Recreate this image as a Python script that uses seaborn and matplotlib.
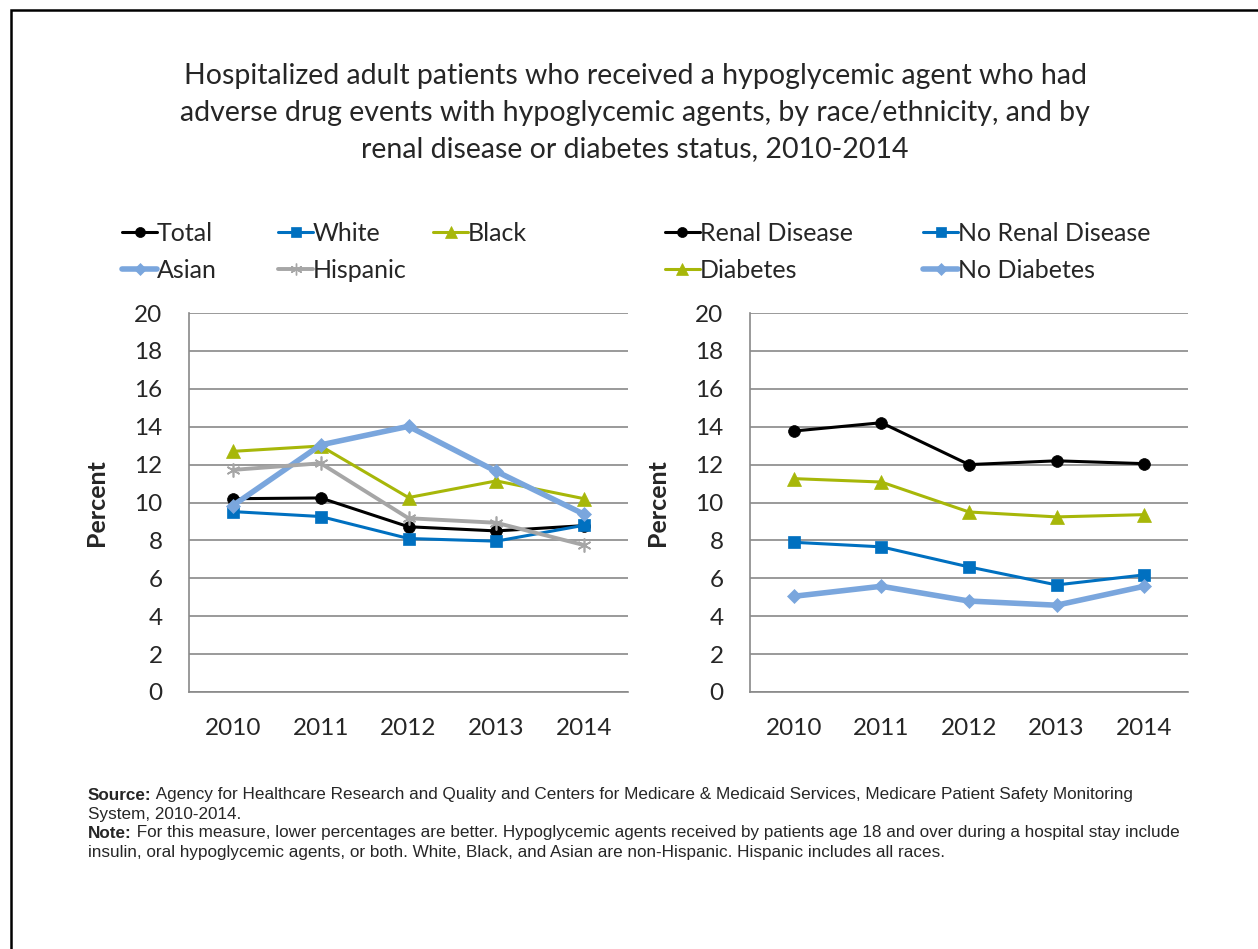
import matplotlib
matplotlib.use("Agg")
import matplotlib.pyplot as plt
import seaborn as sns
import pandas as pd
import numpy as np
from matplotlib.lines import Line2D
from matplotlib.patches import Rectangle

years = ["2010", "2011", "2012", "2013", "2014"]

# left panel: race/ethnicity
total = [10.2, 10.24, 8.72, 8.5, 8.78]
white = [9.52, 9.26, 8.1, 7.96, 8.8]
black = [12.7, 12.98, 10.26, 11.14, 10.2]
asian = [9.84, 13.04, 14.02, 11.64, 9.38]
hispanic = [11.72, 12.07, 9.17, 8.93, 7.75]

# right panel: renal disease / diabetes
renal = [13.77, 14.21, 12.0, 12.2, 12.05]
no_renal = [7.9, 7.66, 6.6, 5.65, 6.18]
diabetes = [11.26, 11.08, 9.5, 9.24, 9.36]
no_diabetes = [5.05, 5.58, 4.8, 4.58, 5.58]

ASTER = (6, 2, 0)
styles = {
    "Total":            dict(color="#000000", marker="o", lw=2.2, ms=8.5),
    "White":            dict(color="#0070C0", marker="s", lw=2.2, ms=8.5),
    "Black":            dict(color="#A7B709", marker="^", lw=2.2, ms=9.5),
    "Asian":            dict(color="#7AA6DD", marker="D", lw=4.0, ms=7.5),
    "Hispanic":         dict(color="#A6A6A6", marker=ASTER, lw=2.8, ms=10),
    "Renal Disease":    dict(color="#000000", marker="o", lw=2.2, ms=8.5),
    "No Renal Disease": dict(color="#0070C0", marker="s", lw=2.2, ms=8.5),
    "Diabetes":         dict(color="#A7B709", marker="^", lw=2.2, ms=9.5),
    "No Diabetes":      dict(color="#7AA6DD", marker="D", lw=4.0, ms=7.5),
}

left_series = {"Total": total, "White": white, "Black": black,
               "Asian": asian, "Hispanic": hispanic}
right_series = {"Renal Disease": renal, "No Renal Disease": no_renal,
                "Diabetes": diabetes, "No Diabetes": no_diabetes}

sns.set_style("white")
plt.rcParams["font.family"] = ["Lato", "DejaVu Sans"]

W, H = 1258, 949
fig = plt.figure(figsize=(W / 100, H / 100), dpi=100)

GRID = "#898989"


def px_axes(x0, y0, x1, y1):
    return fig.add_axes([x0 / W, 1 - y1 / H, (x1 - x0) / W, (y1 - y0) / H])


def draw_panel(ax, series):
    pos = np.arange(len(years))
    for name, vals in series.items():
        st = styles[name]
        df = pd.DataFrame({"x": pos, "y": vals})
        mfc = "none" if st["marker"] == ASTER else st["color"]
        sns.lineplot(data=df, x="x", y="y", ax=ax, color=st["color"],
                     marker=st["marker"], linewidth=st["lw"], markersize=st["ms"],
                     markeredgecolor=st["color"], markerfacecolor=mfc,
                     markeredgewidth=1.2 if st["marker"] == ASTER else 0.5,
                     zorder=3, legend=False)
    ax.set_xlim(-0.5, len(years) - 0.5)
    ax.set_ylim(0, 20)
    ax.set_yticks(np.arange(0, 21, 2))
    ax.set_xticks(pos)
    ax.set_xticklabels(years)
    ax.set_xticks(np.arange(-0.5, len(years), 1), minor=True)
    ax.tick_params(axis="x", which="major", length=0, pad=19, labelsize=17.5)
    ax.tick_params(axis="x", which="minor", length=6, width=1.2, color=GRID, direction="out")
    ax.tick_params(axis="y", length=6, width=1.2, color=GRID, direction="out",
                   labelsize=17.5, pad=13)
    ax.grid(axis="y", color=GRID, lw=1.2)
    ax.set_axisbelow(True)
    for s in ["top", "right"]:
        ax.spines[s].set_visible(False)
    for s in ["left", "bottom"]:
        ax.spines[s].set_color(GRID)
        ax.spines[s].set_linewidth(1.2)
    ax.set_xlabel("")
    ax.set_ylabel("Percent", fontsize=18, fontweight="bold", labelpad=19)


def legend_handle(name):
    st = styles[name]
    mfc = "none" if st["marker"] == ASTER else st["color"]
    return Line2D([], [], color=st["color"], marker=st["marker"], lw=st["lw"],
                  ms=st["ms"] * 0.85, markerfacecolor=mfc, markeredgecolor=st["color"],
                  markeredgewidth=1.0 if st["marker"] == ASTER else 0.5)


def legend_column(names, x_px, y_px):
    leg = fig.legend([legend_handle(n) for n in names], names, frameon=False,
                     loc="upper left", bbox_to_anchor=(x_px / W, 1 - y_px / H),
                     bbox_transform=fig.transFigure, fontsize=18,
                     handlelength=1.4, handletextpad=0.0, borderpad=0,
                     borderaxespad=0, labelspacing=0.56)
    return leg


ax1 = px_axes(189, 313, 628, 692)
draw_panel(ax1, left_series)
ax2 = px_axes(750, 313, 1188, 692)
draw_panel(ax2, right_series)

# legends, one column at a time (Excel-style equal column spacing)
legend_column(["Total", "Asian"], 122, 222)
legend_column(["White", "Hispanic"], 278, 222)
legend_column(["Black"], 433, 222)
legend_column(["Renal Disease", "Diabetes"], 665, 222)
legend_column(["No Renal Disease", "No Diabetes"], 923, 222)

title = ("Hospitalized adult patients who received a hypoglycemic agent who had\n"
         "adverse drug events with hypoglycemic agents, by race/ethnicity, and by\n"
         "renal disease or diabetes status, 2010-2014")
fig.text(635 / W, 1 - 63 / H, title, ha="center", va="top", fontsize=20.5,
         linespacing=1.5)

# footnotes
foot_font = ["Liberation Sans", "DejaVu Sans"]
fs = 12.3
notes = [
    ("Source:", " Agency for Healthcare Research and Quality and Centers for Medicare & Medicaid Services, Medicare Patient Safety Monitoring", 795),
    ("", "System, 2010-2014.", 814),
    ("Note:", " For this measure, lower percentages are better. Hypoglycemic agents received by patients age 18 and over during a hospital stay include", 833),
    ("", "insulin, oral hypoglycemic agents, or both. White, Black, and Asian are non-Hispanic. Hispanic includes all races.", 852),
]
fig.canvas.draw()
renderer = fig.canvas.get_renderer()
for bold, rest, y in notes:
    x = 88
    if bold:
        t = fig.text(x / W, 1 - y / H, bold, fontsize=fs, fontweight="bold",
                     family=foot_font, va="center", ha="left")
        bb = t.get_window_extent(renderer)
        x = bb.x1
    fig.text(x / W, 1 - y / H, rest, fontsize=fs, family=foot_font,
             va="center", ha="left")

# outer frame
fig.patches.append(Rectangle((11 / W, -0.05), 1.2, 1 - 10 / H + 0.05,
                             transform=fig.transFigure, fill=False,
                             edgecolor="#000000", lw=1.8))

fig.savefig("out.png", dpi=100)
